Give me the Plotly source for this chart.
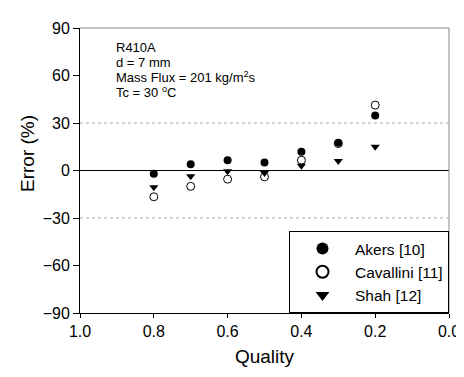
import plotly.graph_objects as go

quality = [0.8, 0.7, 0.6, 0.5, 0.4, 0.3, 0.2]
akers = [-2, 4, 6.5, 5, 11.8, 17.5, 34.8]
cavallini = [-16.6, -10, -5.5, -4, 6.5, 17, 41.3]
shah = [-10.5, -3.7, -0.5, -1.5, 3, 6, 15]
y_ticks = [-90, -60, -30, 0, 30, 60, 90]
x_ticks = [1.0, 0.8, 0.6, 0.4, 0.2, 0.0]
grid_values = [-30, 30]
info_lines = ["R410A", "d = 7 mm", "Mass Flux = 201 kg/m<sup>2</sup>s", "Tc = 30 <sup>o</sup>C"]

font = "Liberation Sans, Arial, sans-serif"
fig = go.Figure()
fig.add_trace(go.Scatter(x=quality, y=akers, mode="markers", name="Akers [10]",
                         marker=dict(symbol="circle", size=8, color="black")))
fig.add_trace(go.Scatter(x=quality, y=cavallini, mode="markers", name="Cavallini [11]",
                         marker=dict(symbol="circle-open", size=8, color="black", line=dict(width=1))))
fig.add_trace(go.Scatter(x=quality, y=shah, mode="markers", name="Shah [12]",
                         marker=dict(symbol="triangle-down", size=8, color="black")))

for i, line in enumerate(info_lines):
    fig.add_annotation(x=0, y=1, xref="paper", yref="paper", xanchor="left", yanchor="middle",
                       xshift=34, yshift=-(19 + 15 * i), align="left", showarrow=False,
                       text=line, font=dict(family=font, size=13, color="black"))

# y-axis title (sits slightly above plot centre in the reference)
fig.add_annotation(x=0, y=0.558, xref="paper", yref="paper", xanchor="center", yanchor="middle",
                   xshift=-52, textangle=-90, showarrow=False, text="Error (%)",
                   font=dict(family=font, size=19, color="black"))

for g in grid_values:
    fig.add_hline(y=g, line=dict(color="#aaaaaa", width=1, dash="dot"), layer="below")

# faint top / right frame
fig.add_shape(type="line", xref="paper", yref="paper", x0=0, x1=1, y0=1, y1=1,
              line=dict(color="#888888", width=1))
fig.add_shape(type="line", xref="paper", yref="paper", x0=1, x1=1, y0=0, y1=1,
              line=dict(color="#888888", width=1))

fig.update_layout(
    width=464, height=377,
    margin=dict(l=72, r=14, t=13, b=72),
    paper_bgcolor="white", plot_bgcolor="white",
    font=dict(family=font, color="black"),
    showlegend=True,
    legend=dict(x=1, y=0, xanchor="right", yanchor="bottom", bordercolor="black", borderwidth=1,
                bgcolor="white", font=dict(family=font, size=15.5), itemsizing="constant",
                itemwidth=55, tracegroupgap=0),
    xaxis=dict(range=[1.0, 0.0], tickvals=x_ticks, ticktext=["1.0", "0.8", "0.6", "0.4", "0.2", "0.0"],
               showgrid=False, zeroline=False, showline=True, linecolor="black", linewidth=1,
               ticks="outside", ticklen=4, tickcolor="black",
               tickfont=dict(size=16, family=font),
               title=dict(text="Quality", font=dict(size=19, family=font), standoff=10)),
    yaxis=dict(range=[-90, 90], tickvals=y_ticks, showgrid=False,
               zeroline=True, zerolinecolor="black", zerolinewidth=1,
               showline=True, linecolor="black", linewidth=1,
               ticks="outside", ticklen=6, tickcolor="black",
               tickfont=dict(size=16, family=font)),
)
fig.write_html("out.html")
